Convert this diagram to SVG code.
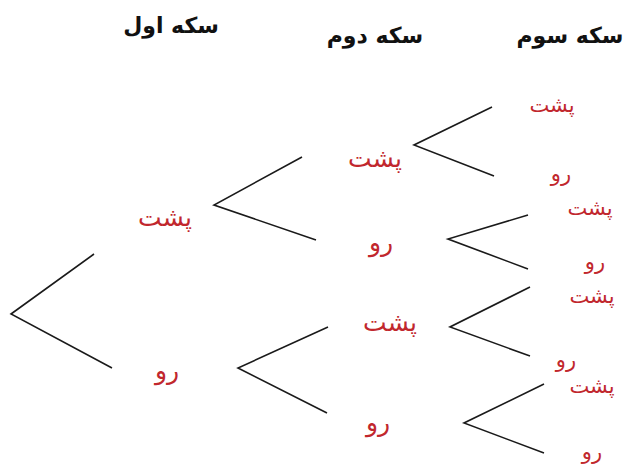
<svg xmlns="http://www.w3.org/2000/svg" width="624" height="468" viewBox="0 0 624 468">
<style>
.hd{font-family:"DejaVu Sans",sans-serif;font-weight:bold;font-size:22px;fill:#111;text-anchor:middle}
.lb{font-family:"DejaVu Sans",sans-serif;font-size:25px;fill:#c1272d;text-anchor:middle}
.sm{font-family:"DejaVu Sans",sans-serif;font-size:21px;fill:#c1272d;text-anchor:middle}
.ln{stroke:#1a1a1a;stroke-width:1.6;fill:none}
</style>
<rect width="624" height="468" fill="#fff"/>
<g id="headers">
<text class="hd" x="171" y="33" direction="rtl">سکه اول</text>
<text class="hd" x="375" y="43" direction="rtl">سکه دوم</text>
<text class="hd" x="570" y="43" direction="rtl">سکه سوم</text>
</g>
<g id="connectors">
<polyline class="ln" points="94,254 11,314 112,368"/>
<polyline class="ln" points="302,157 214,205 316,240"/>
<polyline class="ln" points="328,327 238,368 327,413"/>
<polyline class="ln" points="492,107 414,145 494,176"/>
<polyline class="ln" points="528,215 448,239 528,269"/>
<polyline class="ln" points="530,287 450,327 530,356"/>
<polyline class="ln" points="544,384 464,423 544,453"/>
</g>
<g id="n1a"><text class="lb" x="165" y="226">پشت</text></g>
<g id="n1b"><text class="lb" x="167" y="379">رو</text></g>
<g id="n2a"><text class="lb" x="375" y="167">پشت</text></g>
<g id="n2b"><text class="lb" x="381" y="251">رو</text></g>
<g id="n2c"><text class="lb" x="390" y="331">پشت</text></g>
<g id="n2d"><text class="lb" x="378" y="431">رو</text></g>
<g id="n3a"><text class="sm" x="552" y="112">پشت</text></g>
<g id="n3b"><text class="sm" x="561" y="181">رو</text></g>
<g id="n3c"><text class="sm" x="590" y="215">پشت</text></g>
<g id="n3d"><text class="sm" x="595" y="269">رو</text></g>
<g id="n3e"><text class="sm" x="592" y="303">پشت</text></g>
<g id="n3f"><text class="sm" x="566" y="367">رو</text></g>
<g id="n3g"><text class="sm" x="592" y="393">پشت</text></g>
<g id="n3h"><text class="sm" x="592" y="459">رو</text></g>
</svg>
